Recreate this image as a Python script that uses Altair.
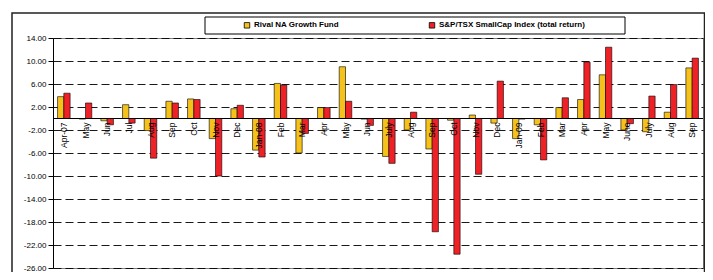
import altair as alt
import pandas as pd

month_labels = ["Apr-07", "May", "Jun", "Jul", "Aug", "Sep", "Oct", "Nov", "Dec",
                "Jan-08", "Feb", "Mar", "Apr", "May", "Jun", "July", "Aug", "Sep",
                "Oct", "Nov", "Dec", "Jan-09", "Feb", "Mar", "Apr", "May", "June",
                "July", "Aug", "Sep"]
fund = [3.8, -0.1, -0.4, 2.4, -2.1, 3.0, 3.4, -3.5, 1.7, -5.5, 6.1, -6.0, 1.9, 9.0,
        -0.1, -6.6, -2.0, -5.3, -0.3, 0.6, -0.8, -3.5, -1.1, 1.9, 3.3, 7.6, -2.0,
        -2.3, 1.1, 8.8]
index = [4.4, 2.7, -1.1, -0.8, -6.9, 2.7, 3.3, -10.0, 2.3, -6.7, 5.8, -2.6, 1.9, 3.0,
         -1.2, -7.8, 1.1, -19.7, -23.6, -9.7, 6.5, -0.1, -7.2, 3.6, 9.8, 12.4, -0.9,
         3.9, 5.9, 10.5]
series_names = ["Rival NA Growth Fund", "S&P/TSX SmallCap Index (total return)"]
series_colors = ["#F5C21B", "#EE2127"]
y_ticks = [14, 10, 6, 2, -2, -6, -10, -14, -18, -22, -26]

keys = [f"k{i:02d}" for i in range(len(month_labels))]
rows = []
for k, a, b in zip(keys, fund, index):
    rows.append({"key": k, "series": series_names[0], "value": a})
    rows.append({"key": k, "series": series_names[1], "value": b})
bars_df = pd.DataFrame(rows)
labels_df = pd.DataFrame({"key": keys, "label": month_labels, "zero": [0] * len(keys)})
one = pd.DataFrame({"a": [0]})

FONT = "Liberation Sans"

x_enc = alt.X("key:N", sort=keys, axis=None,
              scale=alt.Scale(paddingInner=0.42, paddingOuter=0.21))
y_scale = alt.Scale(domain=[-26, 14], nice=False, zero=False)

frame = alt.Chart(one).mark_rect(fill=None, stroke="#222222", strokeWidth=1.5).encode(
    x=alt.value(-41), x2=alt.value(651.5), y=alt.value(-25), y2=alt.value(245))

legend_box = alt.Chart(one).mark_rect(fill="white", stroke="black", strokeWidth=1).encode(
    x=alt.value(152), x2=alt.value(572), y=alt.value(-21), y2=alt.value(-4))

bars = alt.Chart(bars_df).mark_bar(stroke="black", strokeWidth=0.6).encode(
    x=x_enc,
    xOffset=alt.XOffset("series:N", sort=series_names),
    y=alt.Y("value:Q", scale=y_scale,
            axis=alt.Axis(values=y_ticks, tickCount=40, title=None, labelOverlap=False,
                          labelExpr="replace(format(datum.value, '.2f'), '\u2212', '-')",
                          labelFont=FONT, labelFontSize=8, labelColor="black",
                          tickSize=5, labelPadding=2, tickColor="black",
                          domainColor="black", domainWidth=1,
                          gridColor="black", gridDash=[8, 4], gridWidth=1,
                          gridOpacity=0.9)),
    color=alt.Color("series:N", sort=series_names,
                    scale=alt.Scale(domain=series_names, range=series_colors),
                    legend=alt.Legend(orient="none", legendX=190, legendY=-17,
                                      direction="horizontal", columns=2,
                                      columnPadding=88, title=None,
                                      symbolType="square", symbolSize=30,
                                      symbolStrokeColor="black",
                                      symbolStrokeWidth=0.8, symbolOpacity=1,
                                      labelFont=FONT, labelFontSize=8,
                                      labelFontWeight="bold", labelColor="black",
                                      labelOffset=3, padding=0)),
)

zero_rule = alt.Chart(one).mark_rule(color="black", strokeWidth=1).encode(
    y=alt.datum(0, scale=y_scale))

text = alt.Chart(labels_df).mark_text(angle=270, align="right", baseline="middle",
                                      dx=-4, font=FONT, fontSize=8.5,
                                      color="black").encode(
    x=x_enc,
    y=alt.Y("zero:Q", scale=y_scale),
    text="label:N",
)

chart = alt.layer(frame, legend_box, bars, zero_rule, text).properties(
    width=650, height=230,
    padding={"left": 45, "top": 30, "right": 2, "bottom": 4},
    autosize=alt.AutoSizeParams(type="none"),
    background="white",
).configure_view(stroke="#808080", strokeWidth=1)

chart.save("out.html", embed_options={"renderer": "svg", "actions": False})
